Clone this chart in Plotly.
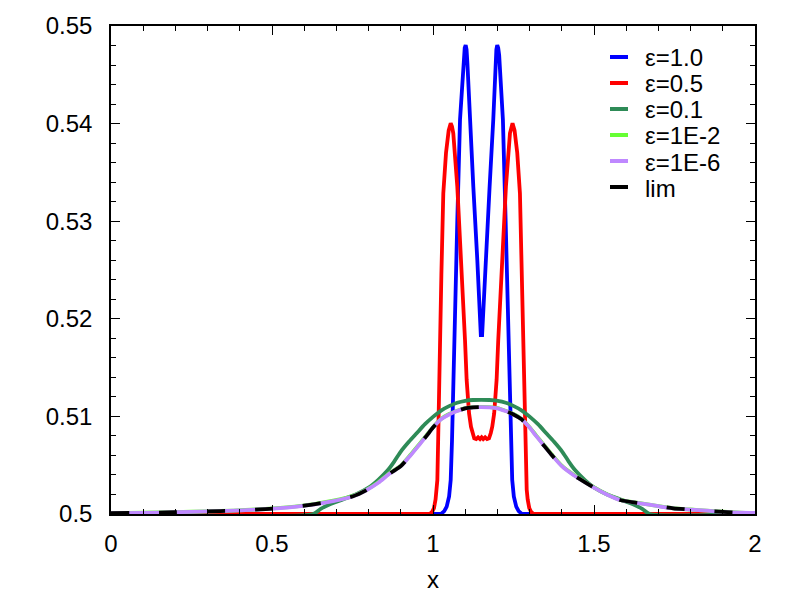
import plotly.graph_objects as go

# ---------------- data ----------------
x_e1 = [0.0, 1.025, 1.035, 1.0425, 1.05, 1.055, 1.059, 1.063, 1.0662, 1.0755, 1.0839,
        1.0922, 1.0955, 1.0985, 1.1015, 1.1042, 1.1068, 1.1139, 1.1252, 1.1376, 1.1485, 1.1525,
        1.1634, 1.1758, 1.1871, 1.1942, 1.1968, 1.1995, 1.2025, 1.2055, 1.2088, 1.2171, 1.2255,
        1.2348, 1.238, 1.242, 1.246, 1.251, 1.2585, 1.266, 1.276, 2.0]
y_e1 = [0.5, 0.5, 0.5003, 0.50075, 0.5018, 0.5035, 0.5075, 0.5137, 0.5178, 0.5301, 0.5404,
        0.5455, 0.5470, 0.54775, 0.54805, 0.5476, 0.5462, 0.54037, 0.53354, 0.52602, 0.51834, 0.51834,
        0.52602, 0.53354, 0.54037, 0.5462, 0.5476, 0.54805, 0.54775, 0.547, 0.5455, 0.5404, 0.5301,
        0.5178, 0.5137, 0.5075, 0.5035, 0.5018, 0.50075, 0.5003, 0.5, 0.5]

x_e05 = [0.0, 0.99, 0.997, 1.003, 1.008, 1.011, 1.0135, 1.016, 1.0186, 1.0217, 1.026,
         1.032, 1.0404, 1.0487, 1.055, 1.059, 1.063, 1.0755, 1.087, 1.0994, 1.1045,
         1.112, 1.118, 1.1225, 1.128, 1.134, 1.14, 1.146, 1.151, 1.156, 1.162, 1.168,
         1.174, 1.1795, 1.184, 1.19, 1.1975, 1.2026, 1.215, 1.2265, 1.239, 1.243,
         1.247, 1.2533, 1.2616, 1.27, 1.276, 1.2803, 1.2834, 1.286, 1.2885, 1.291,
         1.294, 1.299, 1.305, 1.312, 2.0]
y_e05 = [0.5, 0.5, 0.5002, 0.5006, 0.5015, 0.5025, 0.50348, 0.5075, 0.51373, 0.5178, 0.5245,
         0.53286, 0.537, 0.5393, 0.54003, 0.5397, 0.539, 0.53354, 0.52674, 0.5178, 0.51373,
         0.51032, 0.50894, 0.5083, 0.50775, 0.50768, 0.50786, 0.50768, 0.50786, 0.50768, 0.50786, 0.50768,
         0.50775, 0.5083, 0.50894, 0.51032, 0.51373, 0.5178, 0.52674, 0.53354, 0.539, 0.5397,
         0.54003, 0.5393, 0.537, 0.53286, 0.5245, 0.5178, 0.51373, 0.5075, 0.50348, 0.5025,
         0.5015, 0.5006, 0.5002, 0.5, 0.5]

x_e01 = [0.0, 0.628, 0.65, 0.68, 0.72, 0.76, 0.80, 0.83, 0.86, 0.88, 0.90, 0.925, 0.95,
         0.975, 1.0, 1.025, 1.05, 1.075, 1.1, 1.125, 1.15, 1.175, 1.201, 1.226, 1.251,
         1.276, 1.301, 1.326, 1.351, 1.376, 1.401, 1.421, 1.441, 1.471, 1.501, 1.541,
         1.581, 1.621, 1.651, 1.673, 2.0]
y_e01 = [0.5, 0.5, 0.5005, 0.501, 0.5015, 0.502, 0.5027, 0.5035, 0.5045, 0.5054, 0.5064, 0.5074, 0.5083,
         0.5092, 0.50995, 0.5106, 0.51105, 0.5114, 0.5116, 0.51168, 0.5117, 0.51168, 0.5116, 0.5114, 0.51105,
         0.5106, 0.50995, 0.5092, 0.5083, 0.5074, 0.5064, 0.5054, 0.5045, 0.5035, 0.5027, 0.502,
         0.5015, 0.501, 0.5005, 0.5, 0.5]

x_lim = [0.0, 0.1, 0.2, 0.3, 0.38, 0.48, 0.59, 0.69, 0.75, 0.794, 0.83, 0.8665, 0.9, 0.93,
         0.96, 0.98, 1.0, 1.025, 1.05, 1.075, 1.1, 1.125, 1.15, 1.175, 1.2, 1.225, 1.25,
         1.275, 1.3, 1.32, 1.34, 1.37, 1.4, 1.4357, 1.47, 1.5, 1.54, 1.581, 1.643, 1.7,
         1.746, 1.8, 1.85, 1.9, 1.953, 2.0]
y_e2 = [0.50009, 0.50013, 0.50019, 0.50027, 0.50035, 0.50052, 0.50083, 0.50137, 0.50185, 0.5025, 0.50325, 0.50422, 0.50495, 0.50606,
        0.50726, 0.50806, 0.5089, 0.50974, 0.51024, 0.51058, 0.51085, 0.51094, 0.51097, 0.51094, 0.51085, 0.51058, 0.51024,
        0.50974, 0.5089, 0.50806, 0.50726, 0.50606, 0.50495, 0.50405, 0.50333, 0.50273, 0.50203, 0.50145, 0.50111, 0.50081,
        0.50059, 0.50046, 0.50035, 0.50023, 0.50014, 0.5001]
y_e6 = [0.50008, 0.50012, 0.50018, 0.50026, 0.50034, 0.5005, 0.5008, 0.50133, 0.5018, 0.50246, 0.5032, 0.50417, 0.5049, 0.506,
        0.5072, 0.508, 0.50885, 0.5097, 0.5102, 0.51055, 0.51083, 0.51092, 0.51095, 0.51092, 0.51083, 0.51055, 0.5102,
        0.5097, 0.50885, 0.508, 0.5072, 0.506, 0.5049, 0.504, 0.5033, 0.5027, 0.502, 0.50143, 0.5011, 0.5008,
        0.50058, 0.50045, 0.50034, 0.50022, 0.50013, 0.5001]
y_lim = [0.50008, 0.50012, 0.50018, 0.50026, 0.50034, 0.5005, 0.5008, 0.50133, 0.5018, 0.50246, 0.5032, 0.50417, 0.5049, 0.506,
         0.5072, 0.508, 0.50885, 0.5097, 0.5102, 0.51055, 0.51083, 0.51092, 0.51095, 0.51092, 0.51083, 0.51055, 0.5102,
         0.5097, 0.50885, 0.508, 0.5072, 0.506, 0.5049, 0.504, 0.5033, 0.5027, 0.502, 0.50143, 0.5011, 0.5008,
         0.50058, 0.50045, 0.50034, 0.50022, 0.50013, 0.5001]

series_names = ["ε=1.0", "ε=0.5", "ε=0.1", "ε=1E-2", "ε=1E-6", "lim"]
series_x = [x_e1, x_e05, x_e01, x_lim, x_lim, x_lim]
series_y = [y_e1, y_e05, y_e01, y_e2, y_e6, y_lim]
series_colors = ["#0000ff", "#ff0000", "#2e8b57", "#66ff33", "#bf88ff", "#000000"]
series_dash = ["solid", "solid", "solid", "solid", "solid", "18px,30px"]
series_shape = ["linear", "linear", "spline", "spline", "spline", "spline"]

x_tickvals = [0, 0.5, 1, 1.5, 2]
x_ticktext = ["0", "0.5", "1", "1.5", "2"]
y_tickvals = [0.5, 0.51, 0.52, 0.53, 0.54, 0.55]
y_ticktext = ["0.5", "0.51", "0.52", "0.53", "0.54", "0.55"]

# ---------------- figure ----------------
# the page shows the figure with an 8px body margin, so the figure is 792x592
OFF = 8
W, H = 792, 592
ML, MR, MT, MB = 103, 45, 18, 86
PW, PH = W - ML - MR, H - MT - MB

def px2paper(px, py):
    # px, py are screen pixels of the final 800x600 picture
    return (px - OFF - ML) / PW, (H - MB - (py - OFF)) / PH

fig = go.Figure()
for name, xs, ys, col, dsh, shp in zip(series_names, series_x, series_y, series_colors,
                                        series_dash, series_shape):
    fig.add_trace(go.Scatter(x=xs, y=ys, mode="lines", name=name, showlegend=False,
                             line=dict(color=col, width=3.8, dash=dsh, shape=shp, smoothing=0.6)))

# legend drawn as text + short sample lines (keeps gnuplot-like compact spacing)
row0, row_gap = 58, 26
for i, (name, col) in enumerate(zip(series_names, series_colors)):
    py = row0 + i * row_gap
    x0, y0 = px2paper(610, py - 1)
    x1, _ = px2paper(628, py - 1)
    fig.add_shape(type="line", xref="paper", yref="paper", x0=x0, x1=x1, y0=y0, y1=y0,
                  line=dict(color=col, width=4))
    tx, ty = px2paper(643, py)
    fig.add_annotation(xref="paper", yref="paper", x=tx, y=ty, text=name, showarrow=False,
                       xanchor="left", yanchor="middle", font=dict(size=24, color="black"))

axis_common = dict(showgrid=False, zeroline=False, showline=True, linecolor="black", linewidth=1.5,
                   ticks="inside", ticklen=9, tickwidth=1.2, tickcolor="black", mirror="allticks",
                   tickfont=dict(size=24, color="black"))

fig.update_xaxes(range=[0, 2], tickmode="array", tickvals=x_tickvals, ticktext=x_ticktext,
                 minor=dict(dtick=0.1, tick0=0, ticks="inside", ticklen=5, tickcolor="black", tickwidth=1),
                 ticklabelstandoff=7,
                 title=dict(text="x", font=dict(size=24, color="black"), standoff=16),
                 **axis_common)
fig.update_yaxes(range=[0.5, 0.55], tickmode="array", tickvals=y_tickvals, ticktext=y_ticktext,
                 minor=dict(dtick=0.002, tick0=0.5, ticks="inside", ticklen=5, tickcolor="black", tickwidth=1),
                 ticklabelstandoff=12,
                 **axis_common)

fig.update_layout(width=W, height=H, margin=dict(l=ML, r=MR, t=MT, b=MB, autoexpand=False),
                  plot_bgcolor="white", paper_bgcolor="white",
                  font=dict(family="Liberation Sans, Arial, Helvetica, sans-serif", color="black"))

fig.write_html("out.html")
